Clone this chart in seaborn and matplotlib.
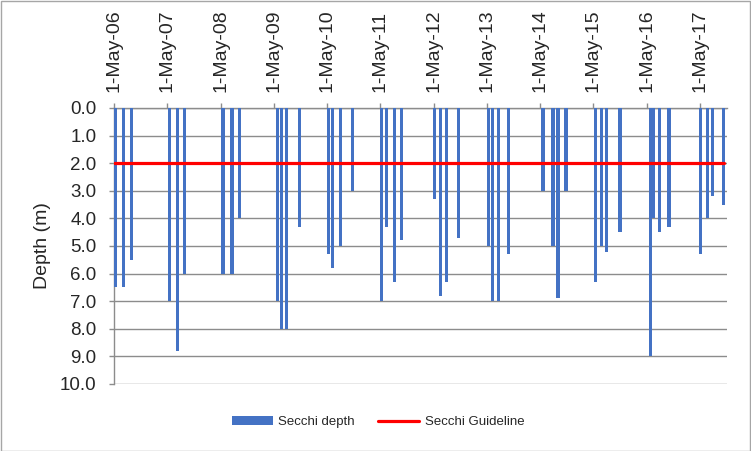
import numpy as np
import pandas as pd
import matplotlib
matplotlib.use("Agg")
import matplotlib.pyplot as plt
import matplotlib.dates as mdates
import seaborn as sns

# ---- Data ----
sample_dates = [
    "2006-05-11", "2006-07-07", "2006-08-31",
    "2007-05-17", "2007-07-11", "2007-08-28",
    "2008-05-17", "2008-07-18", "2008-09-10",
    "2009-05-28", "2009-06-21", "2009-07-29", "2009-10-26",
    "2010-05-12", "2010-06-08", "2010-08-02", "2010-10-24",
    "2011-05-10", "2011-06-13", "2011-08-07", "2011-09-24",
    "2012-05-08", "2012-06-18", "2012-07-29", "2012-10-20",
    "2013-05-12", "2013-06-08", "2013-07-20", "2013-09-26",
    "2014-05-22", "2014-07-29", "2014-09-02", "2014-10-26",
    "2015-05-19", "2015-06-29", "2015-08-02", "2015-10-31",
    "2016-05-28", "2016-06-18", "2016-07-31", "2016-10-01",
    "2017-05-08", "2017-06-25", "2017-07-29", "2017-10-13",
]
secchi_depth = [
    6.5, 6.5, 5.5,
    7.0, 8.8, 6.0,
    6.0, 6.0, 4.0,
    7.0, 8.0, 8.0, 4.3,
    5.3, 5.8, 5.0, 3.0,
    7.0, 4.3, 6.3, 4.8,
    3.3, 6.8, 6.3, 4.7,
    5.0, 7.0, 7.0, 5.3,
    3.0, 5.0, 6.9, 3.0,
    6.3, 5.0, 5.2, 4.5,
    9.0, 4.0, 4.5, 4.3,
    5.3, 4.0, 3.2, 3.5,
]
guideline_value = 2.0
x_start, x_end = "2006-05-01", "2017-11-04"

# ---- Frame ----
df = pd.DataFrame({"date": pd.to_datetime(sample_dates), "depth": secchi_depth})
df["datenum"] = mdates.date2num(df["date"])
line_x = mdates.date2num(pd.to_datetime([x_start, sample_dates[-1]]))

sns.set_style("white")
plt.rcParams["font.family"] = ["Liberation Sans", "DejaVu Sans"]

BLUE = "#4472C4"
GRID = "#8C8C8C"
TEXT = "#262626"

fig = plt.figure(figsize=(7.51, 4.51), dpi=100)
ax = fig.add_axes([114 / 751, 1 - 384 / 451, (727 - 114) / 751, (384 - 108) / 451])

# bar width relative to the smallest gap between samples (21 days) -> ~23 days
sns.barplot(data=df, x="datenum", y="depth", native_scale=True, orient="x",
            width=1.1, color=BLUE, saturation=1, errorbar=None, linewidth=0,
            label="Secchi depth", ax=ax, zorder=3)
sns.lineplot(x=line_x, y=[guideline_value] * len(line_x), color="#FF0000",
             linewidth=2.3, label="Secchi Guideline", ax=ax, zorder=4)

# ---- Axes ----
ax.set_xlim(mdates.date2num(pd.Timestamp(x_start)), mdates.date2num(pd.Timestamp(x_end)))
ax.set_ylim(10, 0)
ax.set_yticks(np.arange(0, 11, 1))
ax.set_yticklabels([f"{v:.1f}" for v in range(0, 11)])
ax.yaxis.grid(True, color=GRID, linewidth=1.0, zorder=0)
ax.xaxis.grid(False)

ax.xaxis.tick_top()
ax.xaxis.set_major_locator(mdates.YearLocator(month=5, day=1))
ax.xaxis.set_major_formatter(mdates.DateFormatter("%-d-%b-%y"))
ax.tick_params(axis="x", which="major", top=True, bottom=False, direction="out",
               length=3.6, width=1, color=GRID, rotation=90, labelsize=14,
               labelcolor=TEXT, pad=8)
ax.tick_params(axis="y", left=True, direction="out", length=3.6, width=1, color=GRID,
               labelsize=13.5, labelcolor=TEXT, pad=9)
ax.set_xlabel("")
ax.set_ylabel("Depth (m)", fontsize=14, color=TEXT)
ax.yaxis.set_label_coords((51 - 114) / 613, 0.5)

for side in ["right", "bottom"]:
    ax.spines[side].set_visible(False)
for side in ["left", "top"]:
    ax.spines[side].set_color(GRID)
    ax.spines[side].set_linewidth(1.0)

# ---- Legend ----
handles, labels = ax.get_legend_handles_labels()
ax.get_legend().remove()
order = [labels.index("Secchi depth"), labels.index("Secchi Guideline")]
fig.legend([handles[i] for i in order], [labels[i] for i in order], loc="center",
           bbox_to_anchor=(378 / 751, 1 - 422 / 451), ncol=2, frameon=False,
           fontsize=9.5, handlelength=3.1, handleheight=0.7,
           handletextpad=0.4, columnspacing=1.8)

# chart border
fig.patches.append(plt.Rectangle((0.001, 0.001), 0.998, 0.997, transform=fig.transFigure,
                                 fill=False, edgecolor="#A6A6A6", linewidth=1.0))

fig.savefig("out.png", dpi=100)
